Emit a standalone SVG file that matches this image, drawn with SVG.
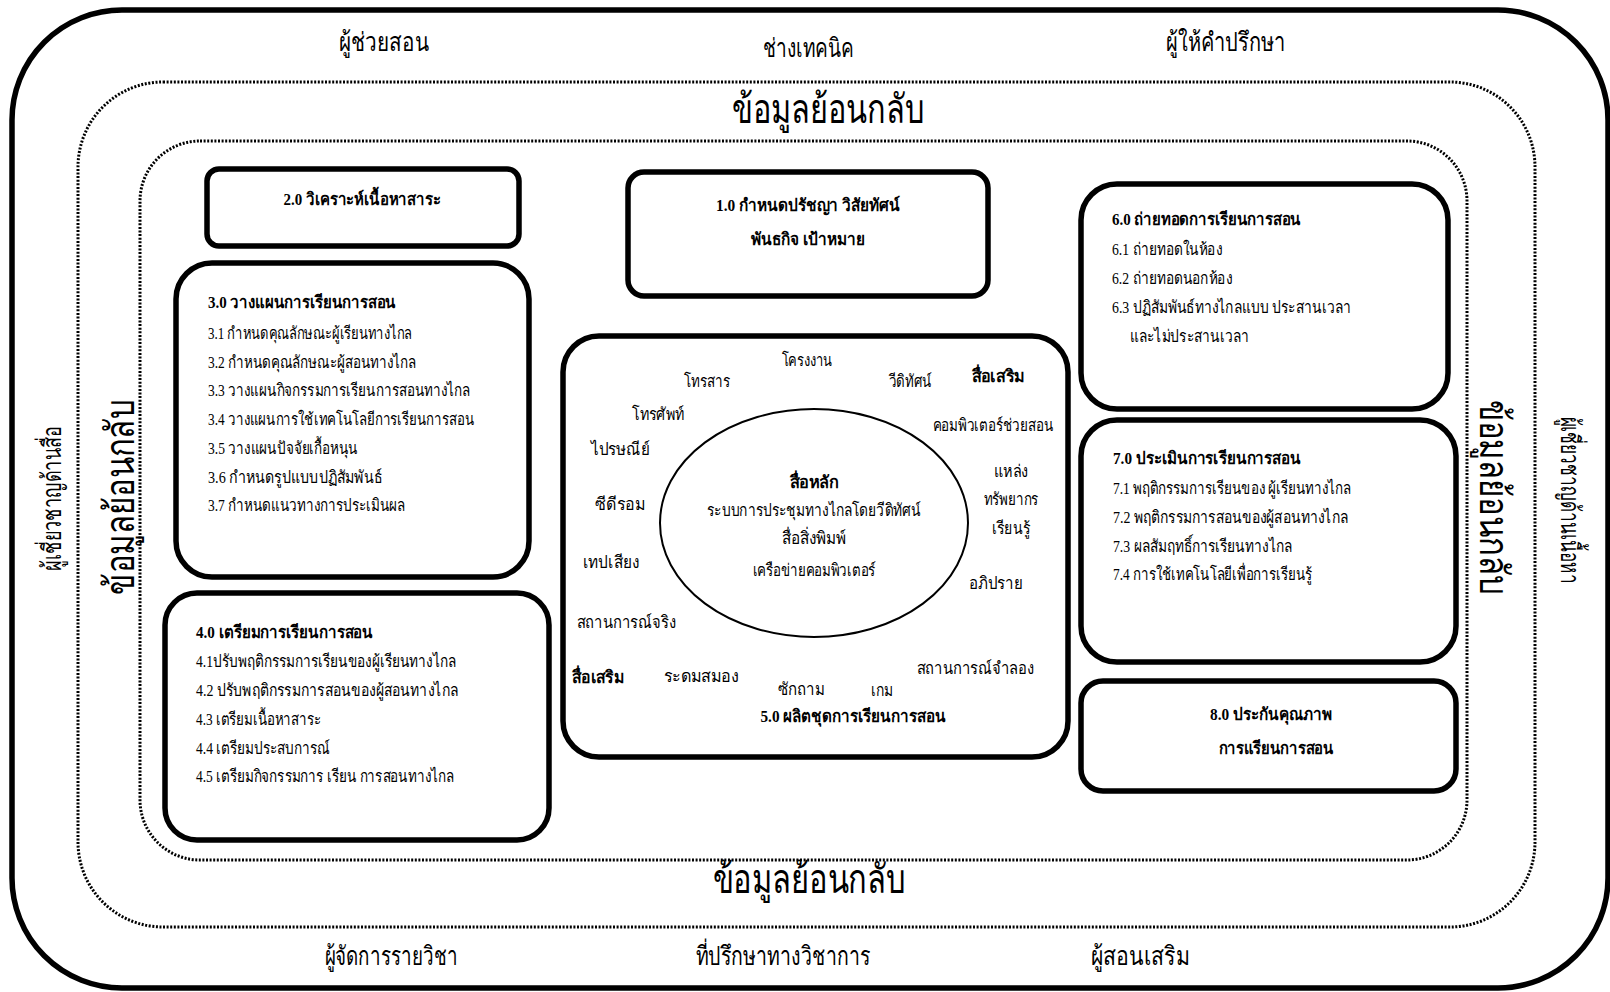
<svg xmlns="http://www.w3.org/2000/svg" width="1610" height="992" viewBox="0 0 1610 992">
<style>
.frame{fill:none;stroke:#000;stroke-width:5.5}
.dot{fill:none;stroke:#000;stroke-width:3;stroke-dasharray:2 1.6}
.box{fill:#fff;stroke:#000;stroke-width:5.5}
.ell{fill:#fff;stroke:#000;stroke-width:2}
.lab{font-family:"Liberation Sans",sans-serif;font-size:26px;fill:#000}
.big{font-family:"Liberation Sans",sans-serif;font-size:40px;fill:#000}
.t{font-family:"Liberation Serif",serif;font-size:17px;fill:#000}
.b{font-family:"Liberation Serif",serif;font-size:17px;font-weight:bold;fill:#000}
.c{text-anchor:middle}
</style>
<rect width="1610" height="992" fill="#fff"/>
<g id="frames">
<rect class="frame" x="12" y="10" width="1596" height="978" rx="110" ry="110"/>
<rect class="dot" x="78" y="82" width="1457" height="845" rx="85" ry="85"/>
<rect class="dot" x="140" y="141" width="1327" height="719" rx="60" ry="60"/>
</g>
<g id="outer-labels">
<text class="lab c" x="384" y="51" textLength="90" lengthAdjust="spacingAndGlyphs">ผู้ช่วยสอน</text>
<text class="lab c" x="808" y="57" textLength="91" lengthAdjust="spacingAndGlyphs">ช่างเทคนิค</text>
<text class="lab c" x="1226" y="51" textLength="120" lengthAdjust="spacingAndGlyphs">ผู้ให้คำปรึกษา</text>
<text class="big c" x="828" y="123" textLength="192" lengthAdjust="spacingAndGlyphs">ข้อมูลย้อนกลับ</text>
<text class="big c" x="809" y="893" textLength="193" lengthAdjust="spacingAndGlyphs">ข้อมูลย้อนกลับ</text>
<text class="lab c" x="391" y="965" textLength="133" lengthAdjust="spacingAndGlyphs">ผู้จัดการรายวิชา</text>
<text class="lab c" x="783" y="965" textLength="175" lengthAdjust="spacingAndGlyphs">ที่ปรึกษาทางวิชาการ</text>
<text class="lab c" x="1140" y="965" textLength="99" lengthAdjust="spacingAndGlyphs">ผู้สอนเสริม</text>
<text class="big c" transform="translate(134 497) rotate(-90)" textLength="195" lengthAdjust="spacingAndGlyphs">ข้อมูลย้อนกลับ</text>
<text class="big c" transform="translate(1480 497) rotate(90)" textLength="195" lengthAdjust="spacingAndGlyphs">ข้อมูลย้อนกลับ</text>
<text class="lab c" transform="translate(61 498) rotate(-90)" textLength="145" lengthAdjust="spacingAndGlyphs">ผู้เชี่ยวชาญด้านสื่อ</text>
<text class="lab c" transform="translate(1561 500) rotate(90)" textLength="167" lengthAdjust="spacingAndGlyphs">ผู้เชี่ยวชาญด้านเนื้อหา</text>
</g>
<g id="node-1">
<rect class="box" x="628" y="172" width="360" height="124" rx="16"/>
<text class="b c" x="808" y="211" textLength="184" lengthAdjust="spacingAndGlyphs">1.0 กำหนดปรัชญา วิสัยทัศน์</text>
<text class="b c" x="808" y="245" textLength="114" lengthAdjust="spacingAndGlyphs">พันธกิจ เป้าหมาย</text>
</g>
<g id="node-2">
<rect class="box" x="207" y="169" width="312" height="77" rx="12"/>
<text class="b c" x="362" y="205" textLength="157" lengthAdjust="spacingAndGlyphs">2.0 วิเคราะห์เนื้อหาสาระ</text>
</g>
<g id="node-3">
<rect class="box" x="176" y="263" width="353" height="314" rx="36"/>
<text class="b" x="208" y="308" textLength="188" lengthAdjust="spacingAndGlyphs">3.0 วางแผนการเรียนการสอน</text>
<text class="t" x="208" y="339" textLength="204" lengthAdjust="spacingAndGlyphs">3.1 กำหนดคุณลักษณะผู้เรียนทางไกล</text>
<text class="t" x="208" y="368" textLength="208" lengthAdjust="spacingAndGlyphs">3.2 กำหนดคุณลักษณะผู้สอนทางไกล</text>
<text class="t" x="208" y="396" textLength="262" lengthAdjust="spacingAndGlyphs">3.3 วางแผนกิจกรรมการเรียนการสอนทางไกล</text>
<text class="t" x="208" y="425" textLength="266" lengthAdjust="spacingAndGlyphs">3.4 วางแผนการใช้เทคโนโลยีการเรียนการสอน</text>
<text class="t" x="208" y="454" textLength="150" lengthAdjust="spacingAndGlyphs">3.5 วางแผนปัจจัยเกื้อหนุน</text>
<text class="t" x="208" y="483" textLength="174" lengthAdjust="spacingAndGlyphs">3.6 กำหนดรูปแบบปฏิสัมพันธ์</text>
<text class="t" x="208" y="511" textLength="197" lengthAdjust="spacingAndGlyphs">3.7 กำหนดแนวทางการประเมินผล</text>
</g>
<g id="node-4">
<rect class="box" x="165" y="593" width="384" height="247" rx="32"/>
<text class="b" x="196" y="638" textLength="177" lengthAdjust="spacingAndGlyphs">4.0 เตรียมการเรียนการสอน</text>
<text class="t" x="196" y="667" textLength="260" lengthAdjust="spacingAndGlyphs">4.1ปรับพฤติกรรมการเรียนของผู้เรียนทางไกล</text>
<text class="t" x="196" y="696" textLength="262" lengthAdjust="spacingAndGlyphs">4.2 ปรับพฤติกรรมการสอนของผู้สอนทางไกล</text>
<text class="t" x="196" y="725" textLength="125" lengthAdjust="spacingAndGlyphs">4.3 เตรียมเนื้อหาสาระ</text>
<text class="t" x="196" y="754" textLength="134" lengthAdjust="spacingAndGlyphs">4.4 เตรียมประสบการณ์</text>
<text class="t" x="196" y="782" textLength="258" lengthAdjust="spacingAndGlyphs">4.5 เตรียมกิจกรรมการ เรียน การสอนทางไกล</text>
</g>
<g id="node-5">
<rect class="box" x="563" y="336" width="505" height="421" rx="36"/>
<ellipse class="ell" cx="814" cy="523" rx="154" ry="114"/>
<text class="t c" x="807" y="366" textLength="51" lengthAdjust="spacingAndGlyphs">โครงงาน</text>
<text class="t c" x="707" y="387" textLength="46" lengthAdjust="spacingAndGlyphs">โทรสาร</text>
<text class="t c" x="910" y="387" textLength="43" lengthAdjust="spacingAndGlyphs">วีดิทัศน์</text>
<text class="b c" x="998" y="382" textLength="53" lengthAdjust="spacingAndGlyphs">สื่อเสริม</text>
<text class="t c" x="658" y="420" textLength="52" lengthAdjust="spacingAndGlyphs">โทรศัพท์</text>
<text class="t c" x="993" y="431" textLength="121" lengthAdjust="spacingAndGlyphs">คอมพิวเตอร์ช่วยสอน</text>
<text class="t c" x="620" y="455" textLength="59" lengthAdjust="spacingAndGlyphs">ไปรษณีย์</text>
<text class="t c" x="1011" y="477" textLength="34" lengthAdjust="spacingAndGlyphs">แหล่ง</text>
<text class="t c" x="1011" y="505" textLength="55" lengthAdjust="spacingAndGlyphs">ทรัพยากร</text>
<text class="t c" x="1011" y="534" textLength="38" lengthAdjust="spacingAndGlyphs">เรียนรู้</text>
<text class="t c" x="620" y="510" textLength="50" lengthAdjust="spacingAndGlyphs">ซีดีรอม</text>
<text class="t c" x="611" y="568" textLength="56" lengthAdjust="spacingAndGlyphs">เทปเสียง</text>
<text class="t c" x="996" y="589" textLength="54" lengthAdjust="spacingAndGlyphs">อภิปราย</text>
<text class="t c" x="626" y="628" textLength="99" lengthAdjust="spacingAndGlyphs">สถานการณ์จริง</text>
<text class="b c" x="598" y="683" textLength="52" lengthAdjust="spacingAndGlyphs">สื่อเสริม</text>
<text class="t c" x="701" y="682" textLength="75" lengthAdjust="spacingAndGlyphs">ระดมสมอง</text>
<text class="t c" x="801" y="695" textLength="47" lengthAdjust="spacingAndGlyphs">ซักถาม</text>
<text class="t c" x="882" y="696" textLength="22" lengthAdjust="spacingAndGlyphs">เกม</text>
<text class="t c" x="975" y="674" textLength="117" lengthAdjust="spacingAndGlyphs">สถานการณ์จำลอง</text>
<text class="b c" x="853" y="722" textLength="185" lengthAdjust="spacingAndGlyphs">5.0 ผลิตชุดการเรียนการสอน</text>
<text class="b c" x="814" y="488" textLength="49" lengthAdjust="spacingAndGlyphs">สื่อหลัก</text>
<text class="t c" x="814" y="516" textLength="214" lengthAdjust="spacingAndGlyphs">ระบบการประชุมทางไกลโดยวีดิทัศน์</text>
<text class="t c" x="814" y="544" textLength="64" lengthAdjust="spacingAndGlyphs">สื่อสิ่งพิมพ์</text>
<text class="t c" x="814" y="576" textLength="123" lengthAdjust="spacingAndGlyphs">เครือข่ายคอมพิวเตอร์</text>
</g>
<g id="node-6">
<rect class="box" x="1081" y="184" width="367" height="225" rx="36"/>
<text class="b" x="1112" y="225" textLength="189" lengthAdjust="spacingAndGlyphs">6.0 ถ่ายทอดการเรียนการสอน</text>
<text class="t" x="1112" y="255" textLength="110" lengthAdjust="spacingAndGlyphs">6.1 ถ่ายทอดในห้อง</text>
<text class="t" x="1112" y="284" textLength="120" lengthAdjust="spacingAndGlyphs">6.2 ถ่ายทอดนอกห้อง</text>
<text class="t" x="1112" y="313" textLength="239" lengthAdjust="spacingAndGlyphs">6.3 ปฏิสัมพันธ์ทางไกลแบบ ประสานเวลา</text>
<text class="t" x="1130" y="342" textLength="119" lengthAdjust="spacingAndGlyphs">และไม่ประสานเวลา</text>
</g>
<g id="node-7">
<rect class="box" x="1081" y="420" width="375" height="242" rx="36"/>
<text class="b" x="1113" y="464" textLength="188" lengthAdjust="spacingAndGlyphs">7.0 ประเมินการเรียนการสอน</text>
<text class="t" x="1113" y="494" textLength="238" lengthAdjust="spacingAndGlyphs">7.1 พฤติกรรมการเรียนของ ผู้เรียนทางไกล</text>
<text class="t" x="1113" y="523" textLength="235" lengthAdjust="spacingAndGlyphs">7.2 พฤติกรรมการสอนของผู้สอนทางไกล</text>
<text class="t" x="1113" y="552" textLength="179" lengthAdjust="spacingAndGlyphs">7.3 ผลสัมฤทธิ์การเรียนทางไกล</text>
<text class="t" x="1113" y="580" textLength="199" lengthAdjust="spacingAndGlyphs">7.4 การใช้เทคโนโลยีเพื่อการเรียนรู้</text>
</g>
<g id="node-8">
<rect class="box" x="1081" y="681" width="375" height="110" rx="22"/>
<text class="b c" x="1271" y="720" textLength="122" lengthAdjust="spacingAndGlyphs">8.0 ประกันคุณภาพ</text>
<text class="b c" x="1276" y="754" textLength="115" lengthAdjust="spacingAndGlyphs">การแรียนการสอน</text>
</g>
<g id="connectors"/>
</svg>
